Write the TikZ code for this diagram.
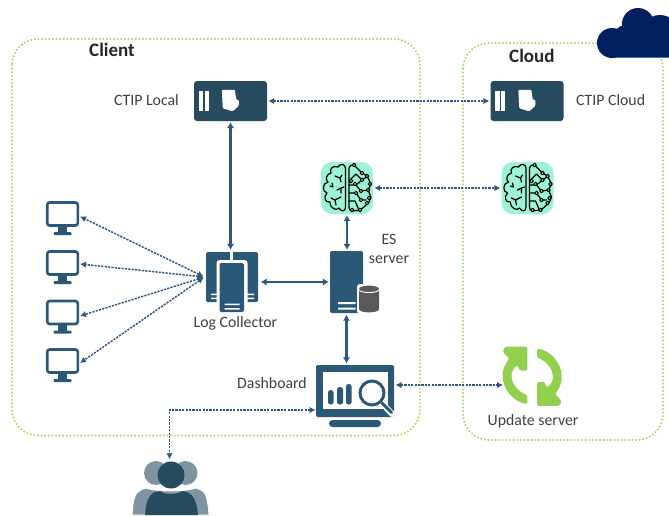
\documentclass[tikz,border=0pt]{standalone}
\usepackage{fontspec}
\setmainfont{Carlito}
\usetikzlibrary{arrows.meta}
\definecolor{navy}{HTML}{264B5E}
\definecolor{steel}{HTML}{2C5878}
\definecolor{link}{HTML}{30597F}
\definecolor{dotgreen}{HTML}{A6D86E}
\definecolor{updgreen}{HTML}{92D050}
\definecolor{cloudnavy}{HTML}{002060}
\definecolor{mint}{HTML}{9CF3D6}
\definecolor{txt}{HTML}{404040}
\definecolor{grayperson}{HTML}{7F949F}
\tikzset{
  x=1pt,y=-1pt,
  zone/.style={draw=dotgreen,line width=2.3pt,line cap=round,dash pattern=on 0pt off 3.6pt,rounded corners=26pt},
  lab/.style={text=txt,font=\fontsize{15.8}{18}\selectfont,inner sep=0pt,align=center},
  head/.style={text=black!85,font=\bfseries\fontsize{19}{22}\selectfont,inner sep=0pt},
  solidlink/.style={draw=link,line width=2.2pt,{Latex[length=6pt,width=7.5pt]}-{Latex[length=6pt,width=7.5pt]}},
  dotlink/.style={draw=link,line width=1.5pt,dash pattern=on 2.2pt off 1.2pt,{Latex[length=6pt,width=6.5pt]}-{Latex[length=6pt,width=6.5pt]}},
  ctipbox/.style={fill=navy,rounded corners=3pt,inner sep=0pt,minimum width=73pt,minimum height=40pt},
  brainbox/.style={fill=mint,rounded corners=11pt,inner sep=0pt,minimum width=52pt,minimum height=52pt},
  brainline/.style={draw=black,line width=1.2pt,line join=round,line cap=round},
  monbox/.style={inner sep=0pt,minimum width=33pt,minimum height=25pt},
  monitorpic/.pic={
    \draw[steel,line width=2.6pt,rounded corners=2.5pt,fill=white] (-15.3,-11.5) rectangle (15.3,11.5);
    \fill[steel] (-4.5,12) rectangle (4.5,18.5);
    \fill[steel,rounded corners=1pt] (-9,18) rectangle (9,21);
  },
  ctippic/.pic={
    \fill[white] (5,10) rectangle (9.5,30);
    \fill[white] (11,10) rectangle (15,30);
    \fill[white,rounded corners=1pt] (28,9) -- (41,9) -- (42.5,19) -- (45,19) -- (45,25) -- (39,30.5) -- (29,27.5) -- cycle;
  },
  brainpic/.pic={
    \draw[brainline] (-1.5,-20) .. controls (-1.5,-24) and (-7,-25) .. (-9,-21)
      .. controls (-14,-23) and (-18,-19) .. (-16,-15)
      .. controls (-21,-14) and (-22,-8) .. (-19,-6)
      .. controls (-25,-5) and (-25,4) .. (-20,5)
      .. controls (-24,9) and (-22,15) .. (-17,14)
      .. controls (-17,21) and (-10,23) .. (-8,20)
      .. controls (-6,24) and (-1.5,24) .. (-1.5,19) -- cycle;
    \draw[brainline] (-12,-12) -- (-7,-10) -- (-5,-13) (-7,-10) -- (-6,-6);
    \draw[brainline] (-17,-2) -- (-14,-1) (-15,-5) -- (-14,-1);
    \draw[brainline] (-10,2) -- (-6,0) -- (-3,-1) (-6,0) -- (-6,5);
    \draw[brainline] (-16,10) -- (-12,12) -- (-6,9) (-12,12) -- (-11,17);
    \draw[brainline] (2,-20) .. controls (2,-23) and (5,-23) .. (7,-23)
      -- (15,-15) -- (20,-12) -- (24,-4) -- (21,2) -- (24,9) -- (22,14) -- (17,19) -- (13,22)
      -- (5,23) .. controls (3,23) and (2,21) .. (2,19) -- cycle;
    \draw[brainline] (2,-7) -- (9,-14) -- (15,-8) -- (9,-3) -- (2,-3)
      (15,-8) -- (21,-12) (9,-3) -- (14,3) -- (21,2) (2,5) -- (9,5) -- (14,12) -- (19,12)
      (2,13) -- (8,13) -- (12,22);
    \foreach \p in {(7,-23),(15,-15),(20,-12),(23,-4),(15,-8),(8,-4),(4,-7),(14,3),(21,2),(9,5),(14,12),(22,10),(20,15),(13,22),(5,22)}
      \draw[brainline,fill=mint,line width=1pt] \p circle (1.8pt);
  },
  refreshpic/.pic={
    \fill[updgreen,rounded corners=1.5pt] (-4.9,-29.6) -- (-4.9,-5.6) -- (-12.2,-5.6) -- (-14.9,-11.3)
      .. controls (-19,-8) and (-21,-3) .. (-20.5,0.4)
      .. controls (-20,8) and (-13,16) .. (-4.9,18.7)
      -- (-4.9,27.7)
      .. controls (-18,26) and (-29.5,13) .. (-29.5,-1.3)
      .. controls (-29.5,-7) and (-26.5,-13) .. (-22.9,-18)
      -- (-29.5,-24.6) -- (-27.2,-29.6) -- cycle;
  }
}
\begin{document}
\begin{tikzpicture}
\useasboundingbox (0,0) rectangle (669,515);
\clip (0,0) rectangle (669,515);
% zones
\draw[zone] (12,39) rectangle (420,435.5);
\draw[zone] (463,43) rectangle (663,440);
% cloud
\fill[cloudnavy] (612,43) circle (15pt) (638,24) circle (16pt) (660,34) circle (19pt) (626,38) circle (13pt);
\fill[cloudnavy,rounded corners=3pt] (610,33) rectangle (675,57.5);
% headings
\node[head,anchor=base west] (clienthead) at (89,56) {Client};
\node[head,anchor=base west] (cloudhead) at (509,62) {Cloud};
% CTIP
\node[ctipbox] (ctipl) at (230.5,101) {};
\node[ctipbox] (ctipc) at (527,101) {};
\pic at (ctipl.north west) {ctippic};
\pic at (ctipc.north west) {ctippic};
\node[lab,anchor=base east] (ctipltext) at (179,105) {CTIP Local};
\node[lab,anchor=base west] (ctipctext) at (576,105) {CTIP Cloud};
% brains
\node[brainbox] (brainl) at (347,188) {};
\node[brainbox] (brainc) at (527.5,188) {};
\pic at (brainl.center) {brainpic};
\pic at (brainc.center) {brainpic};
% monitors
\node[monbox] (m1) at (62.5,214) {};
\node[monbox] (m2) at (62.5,263) {};
\node[monbox] (m3) at (62.5,312.5) {};
\node[monbox] (m4) at (62.5,361) {};
\pic at (m1.center) {monitorpic};
\pic at (m2.center) {monitorpic};
\pic at (m3.center) {monitorpic};
\pic at (m4.center) {monitorpic};
% log collector
\node[fill=steel,rounded corners=1.5pt,inner sep=0pt,minimum width=52pt,minimum height=50pt] (lc) at (232,277) {};
\fill[white,rounded corners=3pt] (216.5,260) rectangle (247.5,313);
\fill[white] (229.8,252) rectangle (232.8,262);
\fill[steel,rounded corners=2pt] (219.5,263) rectangle (244,312);
\fill[white] (211,293.5) rectangle (217,295) (211,297.5) rectangle (217,299);
\fill[white] (247,293.5) rectangle (254,295) (247,297.5) rectangle (254,299);
\fill[white] (224.5,303.5) rectangle (239.5,305) (224.5,308) rectangle (239.5,309.5);
\node[lab] (lctext) at (235.5,323) {Log Collector};
% ES server
\node[fill=steel,rounded corners=2pt,inner sep=0pt,minimum width=33pt,minimum height=62pt] (es) at (346.5,282) {};
\fill[white] (338,302) rectangle (355.5,304) (338,307.5) rectangle (355.5,309.5);
\fill[white,rounded corners=3pt] (357,284) rectangle (381,314);
\fill[black!65] (359,289) -- (359,309) .. controls (359,313.5) and (379,313.5) .. (379,309) -- (379,289) .. controls (379,284.5) and (359,284.5) .. (359,289) -- cycle;
\draw[white,line width=0.9pt] (359,289.5) .. controls (359,293.5) and (379,293.5) .. (379,289.5);
\node[lab] (estext) at (389,248.5) {ES\\[1pt]server};
% dashboard
\node[fill=steel,rounded corners=2pt,inner sep=0pt,minimum width=78pt,minimum height=52pt] (dash) at (355,391) {};
\fill[white] (322.5,372) rectangle (388,409);
\fill[steel,rounded corners=2.5pt] (328,390) rectangle (333.5,404.5) (337,387) rectangle (343,404.5) (346,384) rectangle (351.5,404.5);
\fill[steel,rounded corners=3.5pt] (329,420) rectangle (381,427);
\draw[white,line width=6pt,line cap=round] (381,402) -- (392,414);
\draw[steel,line width=3pt,line cap=round] (382,403) -- (391.5,412.5);
\draw[steel,line width=3pt,fill=white] (372,393) circle (12pt);
\node[lab] (dashtext) at (272,383) {Dashboard};
% update
\node[inner sep=0pt,minimum width=59pt,minimum height=59pt] (upd) at (532.2,376.3) {};
\pic at (upd.center) {refreshpic};
\pic[rotate=180] at (upd.center) {refreshpic};
\node[lab] (updtext) at (533,421) {Update server};
% people
\fill[grayperson] (156,473) circle (12pt) (185.5,473) circle (12pt);
\draw[white,line width=0.8pt,fill=grayperson] (132,515) .. controls (133,500) and (135,492) .. (141,490) -- (146,488) .. controls (156,492) and (185,492) .. (196,488) -- (201,490) .. controls (206,492) and (208,500) .. (209,515) -- cycle;
\node[circle,fill=navy,inner sep=0pt,minimum size=27pt] (people) at (171,475) {};
\fill[navy] (145,515) .. controls (146,503) and (148,495) .. (155,492) -- (160,491) .. controls (165,495) and (177,495) .. (182,491) -- (187,492) .. controls (194,495) and (197,503) .. (198,515) -- cycle;
% connectors
\coordinate (dashin) at (315.5,410);
\coordinate (dashout) at (395.5,385);
\coordinate (updin) at (503,385);
\coordinate (hub) at (204.5,277);
\draw[dotlink,shorten <=1pt,shorten >=1pt] (ctipl.east) -- (ctipc.west);
\draw[dotlink,shorten <=1pt,shorten >=1pt] (brainl.east) -- (brainc.west);
\draw[solidlink,shorten <=1pt,shorten >=2pt] (ctipl.south) -- (ctipl.south |- lc.north);
\draw[solidlink,shorten <=1pt,shorten >=1pt] (brainl.south) -- (brainl.south |- es.north);
\draw[solidlink,shorten <=2.5pt,shorten >=1pt] (lc.east |- es.west) -- (es.west);
\draw[solidlink,shorten <=1.5pt,shorten >=1.5pt] (es.south) -- (es.south |- dash.north);
\draw[dotlink] (dashout) -- (updin);
\draw[dotlink,shorten >=2pt] (dashin) -| ([xshift=-1.5pt]people.north);
\draw[dotlink,shorten <=1pt] (hub) -- (80,216.5);
\draw[dotlink,shorten <=1pt] (hub) -- (80,264);
\draw[dotlink,shorten <=1pt] (hub) -- (80,316);
\draw[dotlink,shorten <=1pt] (hub) -- (80,363);
\end{tikzpicture}
\end{document}
